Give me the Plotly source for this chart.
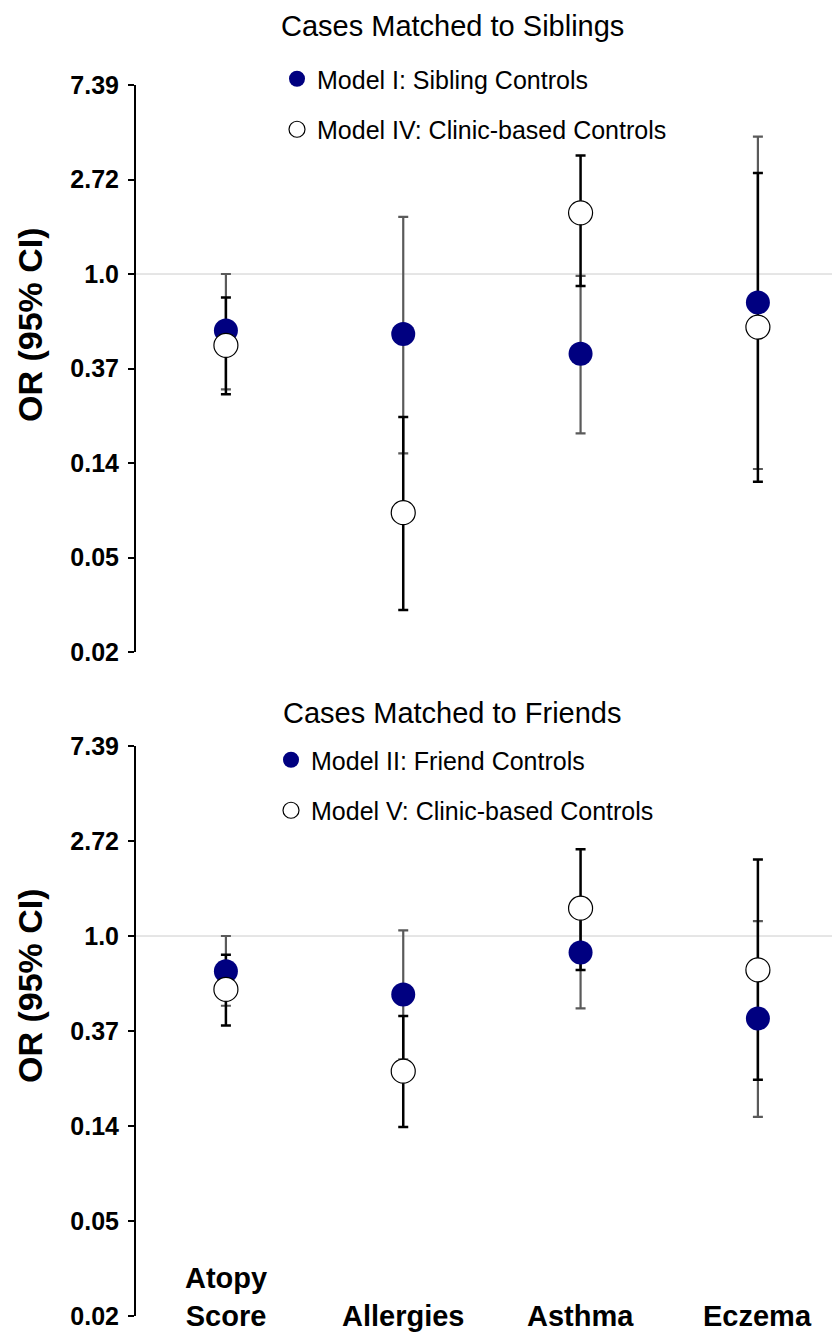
import math
import plotly.graph_objects as go

# ---------------- data ----------------
categories = ["Atopy<br>Score", "Allergies", "Asthma", "Eczema"]

tick_exponents = [2, 1, 0, -1, -2, -3, -4]
tick_labels = ["7.39", "2.72", "1.0", "0.37", "0.14", "0.05", "0.02"]

# Top panel: cases matched to siblings
sib_or = [0.55, 0.53, 0.43, 0.74]
sib_lo = [0.295, 0.150, 0.185, 0.127]
sib_hi = [1.00, 1.83, 0.98, 4.28]

clin4_or = [0.47, 0.080, 1.91, 0.57]
clin4_lo = [0.28, 0.0286, 0.88, 0.111]
clin4_hi = [0.78, 0.220, 3.50, 2.91]

# Bottom panel: cases matched to friends
fr_or = [0.69, 0.54, 0.84, 0.42]
fr_lo = [0.48, 0.273, 0.467, 0.149]
fr_hi = [1.00, 1.06, 1.31, 1.17]

clin5_or = [0.57, 0.241, 1.34, 0.70]
clin5_lo = [0.39, 0.134, 0.70, 0.22]
clin5_hi = [0.82, 0.431, 2.49, 2.24]

panel_titles = ["Cases Matched to Siblings", "Cases Matched to Friends"]
legend_names = [["Model I: Sibling Controls", "Model IV: Clinic-based Controls"],
                ["Model II: Friend Controls", "Model V: Clinic-based Controls"]]
y_title = "OR (95% CI)"

# ---------------- styling ----------------
OFF = 8                      # page body margin
W, H = 840 - OFF, 1337 - OFF
ML = 136 - OFF
FONT = "Arial, Liberation Sans, sans-serif"
NAVY = "#000080"
GRAY = "#5a5a5a"

def py(px):                  # reference page pixel -> paper y
    return 1 - (px - OFF) / H

def pxx(px):                 # reference page pixel -> paper x
    return (px - OFF - ML) / (W - ML)

fig = go.Figure()

panels = [
    dict(xa="x", ya="y", data=(sib_or, sib_lo, sib_hi, clin4_or, clin4_lo, clin4_hi), legend="legend"),
    dict(xa="x2", ya="y2", data=(fr_or, fr_lo, fr_hi, clin5_or, clin5_lo, clin5_hi), legend="legend2"),
]

for pi, p in enumerate(panels):
    f_or, f_lo, f_hi, o_or, o_lo, o_hi = p["data"]
    f_up = [h - v for h, v in zip(f_hi, f_or)]
    f_dn = [v - l for v, l in zip(f_or, f_lo)]
    o_up = [h - v for h, v in zip(o_hi, o_or)]
    o_dn = [v - l for v, l in zip(o_or, o_lo)]
    # error bars (gray for filled model, black for clinic model)
    fig.add_trace(go.Scatter(
        x=categories, y=f_or, mode="markers", xaxis=p["xa"], yaxis=p["ya"],
        marker=dict(size=2, color="rgba(0,0,0,0)"), showlegend=False, hoverinfo="skip",
        error_y=dict(type="data", symmetric=False, array=f_up, arrayminus=f_dn,
                     color=GRAY, thickness=2.2, width=5)))
    fig.add_trace(go.Scatter(
        x=categories, y=o_or, mode="markers", xaxis=p["xa"], yaxis=p["ya"],
        marker=dict(size=2, color="rgba(0,0,0,0)"), showlegend=False, hoverinfo="skip",
        error_y=dict(type="data", symmetric=False, array=o_up, arrayminus=o_dn,
                     color="black", thickness=2.5, width=5)))
    # markers
    fig.add_trace(go.Scatter(
        x=categories, y=f_or, mode="markers", xaxis=p["xa"], yaxis=p["ya"],
        name=legend_names[pi][0], legend=p["legend"], legendgroup=f"a{pi}",
        marker=dict(size=24, color=NAVY, line=dict(width=0))))
    fig.add_trace(go.Scatter(
        x=categories, y=o_or, mode="markers", xaxis=p["xa"], yaxis=p["ya"],
        name=legend_names[pi][1], legend=p["legend"], legendgroup=f"b{pi}",
        marker=dict(size=24, color="white", line=dict(width=1.2, color="black"))))

yrange = [-4 / math.log(10), 2 / math.log(10)]
tickvals = [math.exp(k) for k in tick_exponents]

xrange_ = [-0.507, 3.463]
xcommon = dict(range=xrange_, showline=False, showgrid=False, zeroline=False,
               showticklabels=False, ticks="", type="category",
               categoryorder="array", categoryarray=categories)
ycommon = dict(type="log", range=yrange, tickvals=tickvals, ticktext=tick_labels,
               showline=True, linewidth=2, linecolor="black", ticks="outside",
               ticklen=6, tickwidth=2, tickcolor="black", showgrid=False, zeroline=False,
               tickfont=dict(family=FONT, size=25, color="black", weight="bold"),
               ticklabelstandoff=4)

top_dom = [py(652), py(85)]
bot_dom = [py(1316), py(746)]

legend_common = dict(xanchor="left", yanchor="top",
                     font=dict(family=FONT, size=25, color="black"),
                     bgcolor="rgba(0,0,0,0)", tracegroupgap=15, itemclick=False)

fig.update_layout(
    width=W, height=H,
    margin=dict(l=ML, r=0, t=0, b=0, autoexpand=False),
    plot_bgcolor="white", paper_bgcolor="white",
    xaxis=dict(domain=[0, 1], anchor="y", **xcommon),
    xaxis2=dict(domain=[0, 1], anchor="y2", **xcommon),
    yaxis=dict(domain=top_dom, anchor="x", **ycommon),
    yaxis2=dict(domain=bot_dom, anchor="x2", **ycommon),
    legend=dict(x=pxx(277), y=py(56), **legend_common),
    legend2=dict(x=pxx(271), y=py(737), **legend_common),
    showlegend=True,
)

# reference line at OR = 1
for ya, xa in (("y", "x"), ("y2", "x2")):
    fig.add_shape(type="line", xref=f"{xa} domain", yref=ya, x0=0, x1=1, y0=1, y1=1,
                  line=dict(color="#cccccc", width=1), layer="below")

# panel titles
fig.add_annotation(text=panel_titles[0], xref="paper", yref="paper", x=pxx(452), y=1,
                   xanchor="center", yanchor="top", showarrow=False,
                   font=dict(family=FONT, size=29, color="black"))
fig.add_annotation(text=panel_titles[1], xref="paper", yref="paper", x=pxx(452), y=py(713),
                   xanchor="center", yanchor="middle", showarrow=False,
                   font=dict(family=FONT, size=29, color="black"))

# y-axis titles
for ypx in (325, 986):
    fig.add_annotation(text=f"<b>{y_title}</b>", xref="paper", yref="paper",
                       x=pxx(30), y=py(ypx), xanchor="center", yanchor="middle",
                       textangle=-90, showarrow=False,
                       font=dict(family=FONT, size=34, color="black"))

# category labels at the bottom of the lower panel
for c in categories:
    fig.add_annotation(text=f"<b>{c}</b>", xref="x2", yref="y2", x=c, y=yrange[0],
                       xanchor="center", yanchor="bottom", yshift=-18, showarrow=False,
                       font=dict(family=FONT, size=29, color="black"))

fig.write_html("out.html")
